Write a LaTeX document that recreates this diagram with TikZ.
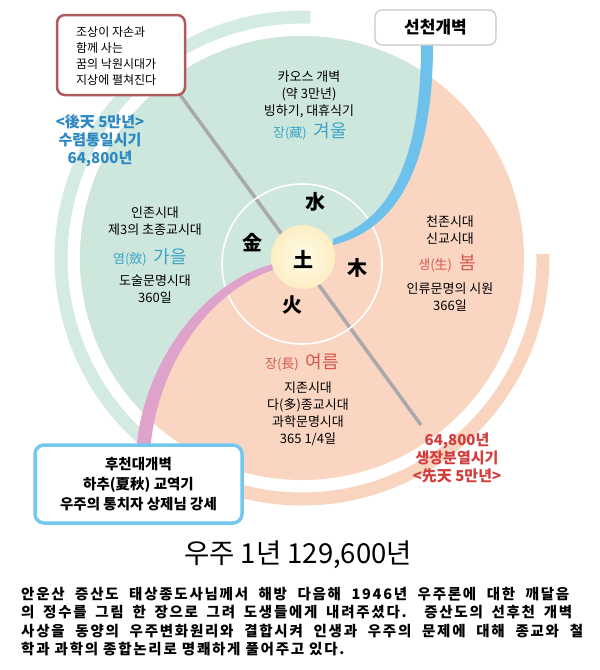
\documentclass[tikz,border=0pt]{standalone}
\usepackage{fontspec}
\setmainfont{Noto Sans CJK KR}
\newfontfamily\parafont[LetterSpace=12]{Noto Sans CJK KR}
\definecolor{mint}{HTML}{CDE7DD}
\definecolor{peach}{HTML}{FAD6C2}
\definecolor{bandgreen}{HTML}{D3EBE2}
\definecolor{bandpeach}{HTML}{F9D4BF}
\definecolor{skyb}{HTML}{6EC1EA}
\definecolor{pinkb}{HTML}{DFA3CB}
\definecolor{grayl}{HTML}{A9A9A9}
\definecolor{boxred}{HTML}{B05A5E}
\definecolor{boxblue}{HTML}{72C8EE}
\definecolor{boxgray}{HTML}{C8C8C8}
\definecolor{txtblue}{HTML}{2C88C2}
\definecolor{txtred}{HTML}{D23E3E}
\definecolor{seasonblue}{HTML}{3DA3C8}
\definecolor{seasonred}{HTML}{D4584F}
\definecolor{glowA}{HTML}{FFFBE8}
\definecolor{glowB}{HTML}{FDF0C8}
\definecolor{glowC}{HTML}{F9DFA4}
\pgfdeclareradialshading{glowshade}{\pgfpoint{0bp}{0bp}}{color(0bp)=(glowA); color(22bp)=(glowB); color(44bp)=(glowC); color(50bp)=(glowC)}
\tikzset{
  body/.style={font=\fontsize{13}{17}\selectfont, align=center, text=black, inner sep=0pt},
  elem/.style={font=\fontsize{20}{20}\selectfont\bfseries, inner sep=0pt},
  periodblue/.style={font=\fontsize{15}{18}\selectfont\bfseries, text=txtblue, align=center, inner sep=0pt},
  periodred/.style={font=\fontsize{15}{18}\selectfont\bfseries, text=txtred, align=center, inner sep=0pt},
  seasonb/.style={text=seasonblue, inner sep=0pt},
  seasonr/.style={text=seasonred, inner sep=0pt},
  para/.style={anchor=base west, font=\parafont\fontsize{14.5}{14.5}\selectfont\bfseries, inner sep=0pt},
}
\newcommand{\season}[2]{{\fontsize{13}{13}\selectfont #1}\hspace{7pt}{\fontsize{18}{18}\selectfont #2}}
\begin{document}
\begin{tikzpicture}[x=1pt,y=-1pt]
\useasboundingbox (0,0) rectangle (600,670);
\fill[white] (0,0) rectangle (600,670);

% outer bands
\draw[bandgreen, line width=13pt] plot[domain=88:228, samples=90] ({302+241*cos(\x)},{258-241*sin(\x)});
\draw[bandpeach, line width=13pt] plot[domain=-126:1, samples=90] ({302+241*cos(\x)},{258-241*sin(\x)});

% main disk
\fill[peach] (302,258) circle[radius=222];
\begin{scope}
  \clip (302,258) circle[radius=222];
  \fill[mint] (427,30) -- (427,45) .. controls (427,170) and (390,225) .. (333,242)
     -- (273,267) .. controls (210,285) and (150,360) .. (143,445)
     -- (0,445) -- (0,0) -- (427,0) -- cycle;
\end{scope}

% gray axis line
\coordinate (g1) at (178,92);
\coordinate (g2) at (421,425);
\draw[grayl, line width=3.5pt] (g1) -- (g2);

% inner white circle
\draw[white, line width=1.6pt] (302,264) circle[radius=80];

% blue band
\fill[skyb] (421,38) -- (421,45) .. controls (421,168) and (386,220) .. (333,239)
   -- (333,245) .. controls (394,230) and (433,172) .. (433,45) -- (433,38) -- cycle;
% pink band
\fill[pinkb] (273,264) .. controls (208,280) and (143,358) .. (136,452)
   -- (150,452) .. controls (157,362) and (212,290) .. (273,270) -- cycle;

% center glow
\shade[shading=glowshade] (303,257) circle[radius=32];

% five elements
\node[elem] (water) at (315,202) {水};
\node[elem] (metal) at (252,243) {金};
\node[elem] (earth) at (303,259) {土};
\node[elem] (wood) at (357,268) {木};
\node[elem] (fire) at (292,305) {火};

% top (winter)
\node[body] (wtxt) at (309,94) {카오스 개벽\\(약 3만년)\\빙하기, 대휴식기};
\node[seasonb] (winter) at (310,131) {\season{장(藏)}{겨울}};
% left (autumn)
\node[body] (atxt1) at (155,221) {인존시대\\제3의 초종교시대};
\node[seasonb] (autumn) at (150,257) {\season{염(斂)}{가을}};
\node[body] (atxt2) at (155,289) {도술문명시대\\360일};
% right (spring)
\node[body] (stxt1) at (450,230) {천존시대\\신교시대};
\node[seasonr] (spring) at (447,263) {\season{생(生)}{봄}};
\node[body] (stxt2) at (450,297) {인류문명의 시원\\366일};
% bottom (summer)
\node[seasonr] (summer) at (302,362) {\season{장(長)}{여름}};
\node[body] (mtxt) at (308,414) {지존시대\\다(多)종교시대\\과학문명시대\\365 1/4일};

% periods
\node[periodblue] (later) at (100,141) {<後天 5만년>\\수렴통일시기\\64,800년};
\node[periodred] (earlier) at (457,458) {64,800년\\생장분열시기\\<先天 5만년>};

% boxes
\node[draw=boxred, line width=2.5pt, rounded corners=8pt, fill=white,
      minimum width=128pt, minimum height=80pt] (tlbox) at (121,55) {};
\node[anchor=west, align=left, inner sep=0pt, font=\fontsize{12}{16.2}\selectfont] (tltext) at (76,56)
      {조상이 자손과\\함께 사는\\꿈의 낙원시대가\\지상에 펼쳐진다};
\node[draw=boxgray, line width=1.2pt, rounded corners=7pt, fill=white,
      minimum width=121pt, minimum height=35pt,
      font=\fontsize{17}{17}\selectfont\bfseries] (trbox) at (435.5,27.5) {선천개벽};
\node[draw=boxblue, line width=3.5pt, rounded corners=9pt, fill=white,
      minimum width=207pt, minimum height=78pt, align=center,
      font=\fontsize{14.5}{20}\selectfont\bfseries] (blbox) at (138.5,484)
      {후천대개벽\\하추(夏秋) 교역기\\우주의 통치자 상제님 강세};

% title and paragraph
\node[font=\fontsize{27.5}{27.5}\selectfont, inner sep=0pt] (title) at (298,555) {우주 1년 129,600년};
\node[para] (p1) at (21,599) {\makebox[548pt][s]{안운산 증산도 태상종도사님께서 해방 다음해 1946년 우주론에 대한 깨달음}};
\node[para] (p2) at (21,617.5) {\makebox[551pt][s]{의 정수를 그림 한 장으로 그려 도생들에게 내려주셨다. 증산도의 선후천 개벽}};
\node[para] (p3) at (21,636) {\makebox[562pt][s]{사상을 동양의 우주변화원리와 결합시켜 인생과 우주의 문제에 대해 종교와 철}};
\node[para] (p4) at (21,654.5) {학과 과학의 종합논리로 명쾌하게 풀어주고 있다.};
\end{tikzpicture}
\end{document}
